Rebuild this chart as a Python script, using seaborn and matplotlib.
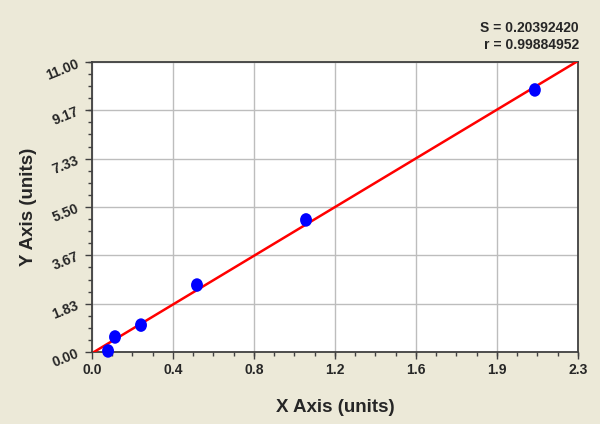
import numpy as np
import pandas as pd
import matplotlib
matplotlib.use("Agg")
import matplotlib.pyplot as plt
import seaborn as sns
from matplotlib.ticker import AutoMinorLocator
from matplotlib.markers import MarkerStyle
from matplotlib.transforms import Affine2D

# valores
x_vals = [0.076, 0.109, 0.232, 0.497, 1.013, 2.096]
y_vals = [0.04, 0.57, 1.02, 2.54, 5.01, 9.94]
x_ticks = [0.0, 0.3833, 0.7667, 1.15, 1.5333, 1.9167, 2.3]
x_tick_labels = ["0.0", "0.4", "0.8", "1.2", "1.6", "1.9", "2.3"]
y_ticks = [0.0, 1.8333, 3.6667, 5.5, 7.3333, 9.1667, 11.0]
y_tick_labels = ["0.00", "1.83", "3.67", "5.50", "7.33", "9.17", "11.00"]
stats_text = ["S = 0.20392420", "r = 0.99884952"]

df = pd.DataFrame({"x": x_vals, "y": y_vals})

sns.set_style("white")
plt.rcParams["font.family"] = ["Liberation Sans", "DejaVu Sans"]

fig = plt.figure(figsize=(6, 4.24), dpi=100, facecolor="#ECE9D8")
ax = fig.add_axes([0.1533, 0.1698, 0.81, 0.684])
ax.set_facecolor("white")

# recta de ajuste
coef = np.polyfit(df["x"], df["y"], 1)
x0 = max(0.0, -coef[1] / coef[0])
fit = pd.DataFrame({"x": [x0, 2.3]})
fit["y"] = np.polyval(coef, fit["x"])
sns.lineplot(data=fit, x="x", y="y", color="#FF0000", linewidth=1.8, ax=ax, zorder=3)

oval = MarkerStyle("o", transform=Affine2D().scale(0.88, 1.0))
sns.scatterplot(data=df, x="x", y="y", color="#0000FF", s=95, marker=oval,
                edgecolor="none", ax=ax, zorder=4, clip_on=False)

ax.set_xlim(0, 2.3)
ax.set_ylim(0, 11.0)
ax.set_xticks(x_ticks)
ax.set_xticklabels(x_tick_labels, fontsize=10, fontweight="bold")
ax.set_yticks(y_ticks)
ax.set_yticklabels(y_tick_labels, fontsize=10, fontweight="bold", rotation=22)
ax.xaxis.set_minor_locator(AutoMinorLocator(4))
ax.yaxis.set_minor_locator(AutoMinorLocator(4))
ax.tick_params(axis="both", which="major", direction="out", length=5, width=1,
               color="#404040", pad=3, bottom=True, left=True)
ax.tick_params(axis="both", which="minor", direction="out", length=3, width=1,
               color="#404040", bottom=True, left=True)

ax.grid(True, which="major", color="#BDBDBD", linewidth=1)
for sp in ax.spines.values():
    sp.set_color("#404040")
    sp.set_linewidth(1.3)

ax.set_xlabel("X Axis (units)", fontsize=13.5, fontweight="bold", labelpad=16)
ax.set_ylabel("Y Axis (units)", fontsize=13.5, fontweight="bold", labelpad=5)

fig.text(0.965, 0.935, stats_text[0], ha="right", va="center", fontsize=10, fontweight="bold")
fig.text(0.965, 0.893, stats_text[1], ha="right", va="center", fontsize=10, fontweight="bold")

fig.savefig("out.png", dpi=100, facecolor=fig.get_facecolor())
